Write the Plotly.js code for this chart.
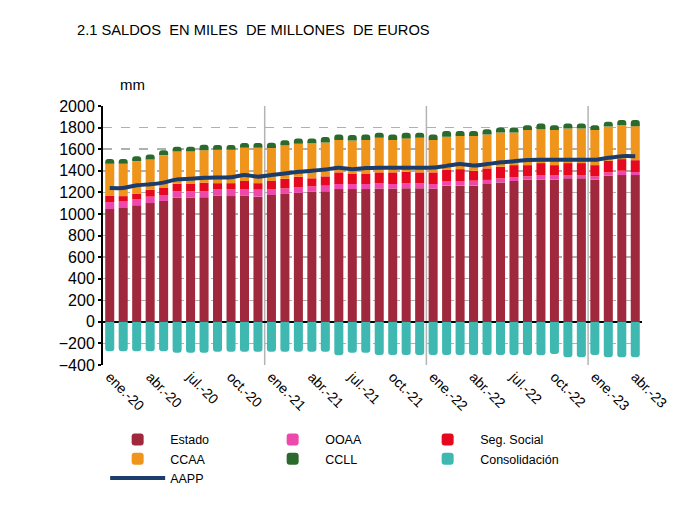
<!DOCTYPE html>
<html>
<head>
<meta charset="utf-8">
<script src="https://cdn.plot.ly/plotly-3.0.1.min.js"></script>
<style>
  html, body { margin: 0; padding: 0; background: #ffffff; }
  #chart { width: 694px; height: 512px; }
</style>
</head>
<body>
<div id="chart"></div>
<script>
// ---- data (miles de millones de euros) ----
const months = [
  "ene.-20","feb.-20","mar.-20","abr.-20","may.-20","jun.-20","jul.-20","ago.-20","sep.-20","oct.-20","nov.-20","dic.-20",
  "ene.-21","feb.-21","mar.-21","abr.-21","may.-21","jun.-21","jul.-21","ago.-21","sep.-21","oct.-21","nov.-21","dic.-21",
  "ene.-22","feb.-22","mar.-22","abr.-22","may.-22","jun.-22","jul.-22","ago.-22","sep.-22","oct.-22","nov.-22","dic.-22",
  "ene.-23","feb.-23","mar.-23","abr.-23"
];
const estado = [1045,1055,1080,1100,1120,1150,1152,1155,1170,1165,1170,1160,
                1175,1185,1195,1205,1210,1230,1230,1230,1235,1235,1237,1237,
                1235,1262,1262,1262,1277,1292,1305,1317,1320,1317,1330,1330,
                1317,1354,1360,1360];
const ooaa = [65,60,55,60,55,60,58,55,60,65,60,65,
              55,52,50,50,52,47,47,47,48,42,46,46,
              42,38,43,46,38,37,35,31,40,43,30,30,
              31,31,40,28];
const segSocial = [60,50,50,65,70,70,68,80,55,55,75,60,
                   75,88,100,75,86,108,93,93,102,108,108,102,
                   108,110,110,92,107,108,112,104,111,92,111,111,
                   104,107,108,110];
const ccaa = [295,300,305,280,300,298,300,300,310,310,307,327,
              305,312,305,325,314,301,310,316,320,301,309,320,
              301,305,308,323,313,317,302,326,314,326,320,320,
              326,317,317,315];
const ccll = [45,45,45,45,45,44,44,50,43,43,46,46,
              50,46,48,43,50,49,52,49,47,49,52,47,
              49,54,46,46,50,46,46,44,52,44,46,46,
              44,46,46,58];
const consolidacion = [-272,-272,-272,-272,-272,-287,-287,-287,-278,-278,-278,-278,
                       -278,-278,-278,-278,-278,-310,-287,-287,-308,-308,-308,-308,
                       -308,-308,-308,-308,-308,-308,-308,-308,-310,-298,-328,-328,
                       -308,-328,-328,-328];
const aapp = [1240,1240,1265,1275,1290,1320,1325,1335,1338,1340,1360,1345,
              1360,1375,1390,1400,1412,1428,1415,1425,1428,1428,1428,1428,
              1430,1445,1462,1448,1462,1478,1488,1500,1502,1502,1502,1502,
              1502,1520,1535,1535];
const tickLabels = months.filter((m, i) => i % 3 === 0);

// ---- traces ----
const barSeries = [
  {name: "Estado", y: estado, color: "#A0283D"},
  {name: "OOAA", y: ooaa, color: "#EF48AC"},
  {name: "Seg. Social", y: segSocial, color: "#E5081E"},
  {name: "CCAA", y: ccaa, color: "#F0951C"},
  {name: "CCLL", y: ccll, color: "#2B6A2D"},
  {name: "Consolidación", y: consolidacion, color: "#3EB8B0"}
];
const traces = barSeries.map(s => ({
  type: "bar", name: s.name, x: months, y: s.y,
  marker: {color: s.color, line: {width: 0}}
}));
traces.push({
  type: "scatter", mode: "lines", name: "AAPP", x: months, y: aapp,
  line: {color: "#1C3D6C", width: 4, shape: "spline", smoothing: 0.6}
});

// year separators (between dic. and ene.)
const shapes = [];
months.forEach((m, i) => {
  if (i > 0 && m.startsWith("ene")) {
    shapes.push({type: "line", xref: "x", yref: "paper", x0: i - 0.5, x1: i - 0.5, y0: 0, y1: 1,
                 line: {color: "#b4b4b4", width: 1.5}, layer: "below"});
  }
});

const font = "Liberation Sans, Arial, sans-serif";
const layout = {
  width: 694, height: 512,
  paper_bgcolor: "#ffffff", plot_bgcolor: "#ffffff",
  margin: {l: 103, r: 52, t: 106, b: 147},
  font: {family: font, color: "#000000"},
  barmode: "relative", bargap: 0.33, barcornerradius: 3,
  title: {text: "2.1 SALDOS  EN MILES  DE MILLONES  DE EUROS", font: {size: 14.7, family: font, color: "#000"},
          xref: "container", yref: "container", x: 77/694, xanchor: "left", y: 1 - 30/512, yanchor: "middle"},
  xaxis: {
    type: "category", range: [-0.5, months.length - 0.5],
    tickmode: "array", tickvals: tickLabels, ticktext: tickLabels,
    tickangle: 45, tickfont: {size: 14, family: font},
    showgrid: false, showline: false, ticks: "", zeroline: false
  },
  yaxis: {
    range: [-400, 2000], dtick: 200, tick0: 0,
    tickfont: {size: 16, family: font},
    showline: true, linecolor: "#000", linewidth: 2,
    ticks: "outside", ticklen: 3, tickwidth: 2, tickcolor: "#000",
    showgrid: true, gridcolor: "#b0b0b0", gridwidth: 1.5, griddash: "dash",
    zeroline: true, zerolinecolor: "#000", zerolinewidth: 2
  },
  shapes: shapes,
  annotations: [{text: "mm", xref: "paper", yref: "paper", x: 15/539, y: 1 + 21/259,
                 xanchor: "left", yanchor: "middle", showarrow: false, font: {size: 15, family: font}}],
  showlegend: true,
  legend: {orientation: "h", x: 0.004, xanchor: "left", y: -0.231, yanchor: "top",
           entrywidth: 85, entrywidthmode: "pixels", itemwidth: 55,
           font: {size: 12.5, family: font},
           traceorder: "normal", bgcolor: "rgba(0,0,0,0)"}
};

Plotly.newPlot("chart", traces, layout, {staticPlot: true, displayModeBar: false});
</script>
</body>
</html>
